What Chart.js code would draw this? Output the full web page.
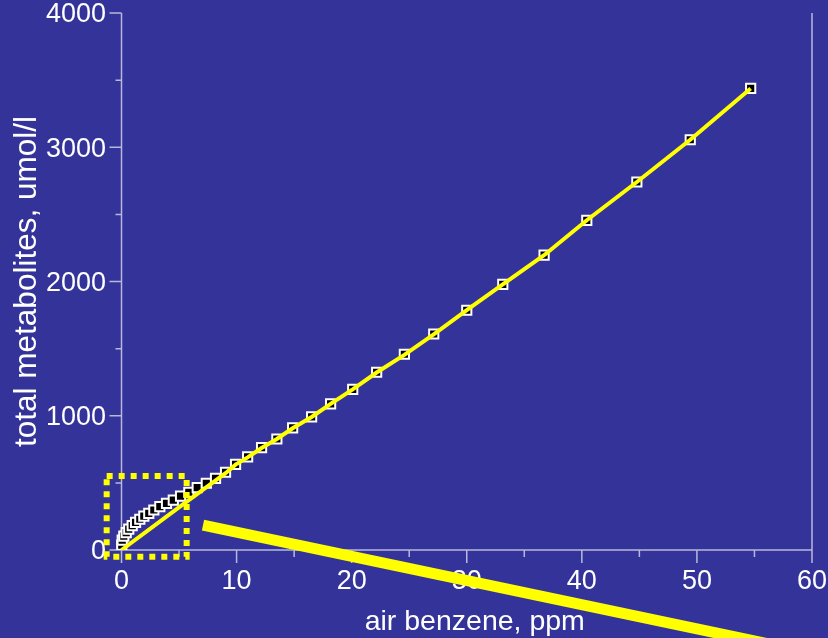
<!DOCTYPE html>
<html>
<head>
<meta charset="utf-8">
<script src="https://cdn.jsdelivr.net/npm/chart.js@4/dist/chart.umd.min.js"></script>
<style>
  html, body { margin: 0; padding: 0; background: #333399; }
  #wrap { width: 828px; height: 638px; }
</style>
</head>
<body>
<div id="wrap"><canvas id="chart" width="828" height="638"></canvas></div>
<script>
// measured points: air benzene (ppm) vs total metabolites (umol/l)
const pointX = [0.02, 0.06, 0.20, 0.41, 0.63, 0.93, 1.22, 1.59, 1.94, 2.37, 2.81, 3.33, 3.91, 4.50, 5.13, 5.85,
  6.58, 7.37, 8.17, 9.04, 9.91, 10.96, 12.17, 13.50, 14.87, 16.52, 18.17, 20.09, 22.17, 24.58, 27.13, 30.0,
  33.13, 36.72, 40.43, 44.78, 49.42, 54.67];
const pointY = [37, 74, 104, 129, 156, 181, 206, 229, 253, 273, 298, 323, 348, 372, 402, 430,
  464, 497, 534, 579, 638, 693, 762, 827, 909, 991, 1088, 1197, 1324, 1458, 1609, 1786,
  1979, 2196, 2456, 2741, 3056, 3439];

// yellow model curve
const lineX = [0, 4.55, 9.04, 9.91, 10.96, 12.17, 13.50, 14.87, 16.52, 18.17, 20.09, 22.17, 24.58, 27.13, 30.0,
  33.13, 36.72, 40.43, 44.78, 49.42, 54.67];
const lineY = [0, 290, 572, 636, 690, 760, 827, 907, 991, 1088, 1197, 1322, 1453, 1606, 1786,
  1979, 2196, 2456, 2741, 3056, 3437];

const xTitle = 'air benzene, ppm';
const yTitle = 'total metabolites, umol/l';

// highlight box and pointer (data units)
const boxX = [-1.29, 5.66];
const boxY = [-50, 551];
const pointerX = [7.08, 63.3];
const pointerY = [186, -827];

const bg = '#333399';
const axisColor = '#b8b8dc';
const yellow = '#ffff00';
const fontFamily = '"Liberation Sans", Arial, sans-serif';

function toXY(xs, ys) {
  return xs.map((x, i) => ({ x: x, y: ys[i] }));
}

const axesPlugin = {
  id: 'axes',
  beforeDraw(chart) {
    const ctx = chart.ctx;
    ctx.save();
    ctx.fillStyle = bg;
    ctx.fillRect(0, 0, chart.width, chart.height);
    ctx.restore();
  },
  beforeDatasetsDraw(chart) {
    const { ctx, chartArea: a, scales: { x, y } } = chart;
    const x0 = x.getPixelForValue(0);
    ctx.save();
    ctx.strokeStyle = axisColor;
    ctx.lineWidth = 1.5;
    ctx.beginPath();
    ctx.moveTo(a.left, a.bottom);
    ctx.lineTo(a.right, a.bottom);
    ctx.moveTo(x0, a.top);
    ctx.lineTo(x0, a.bottom);
    ctx.moveTo(a.right, a.top);
    ctx.lineTo(a.right, a.bottom);
    for (let v = 0; v <= 60; v += 5) {
      const px = x.getPixelForValue(v);
      ctx.moveTo(px, a.bottom);
      ctx.lineTo(px, a.bottom + (v % 10 ? 7 : 13));
    }
    for (let v = 0; v <= 4000; v += 500) {
      const py = y.getPixelForValue(v);
      ctx.moveTo(x0, py);
      ctx.lineTo(x0 - (v % 1000 ? 6 : 12), py);
    }
    ctx.stroke();
    ctx.restore();
  },
  afterDraw(chart) {
    const { ctx, chartArea: a, scales: { x, y } } = chart;
    ctx.save();
    // x axis title, centred a little right of the scale middle as in the original
    ctx.fillStyle = '#ffffff';
    ctx.font = '28.5px ' + fontFamily;
    ctx.textAlign = 'center';
    ctx.textBaseline = 'alphabetic';
    ctx.fillText(xTitle, (x.getPixelForValue(0) + a.right) / 2 + 8, 630);
    // dotted box round the low-exposure points
    const l = x.getPixelForValue(boxX[0]), r = x.getPixelForValue(boxX[1]);
    const t = y.getPixelForValue(boxY[1]), b = y.getPixelForValue(boxY[0]);
    ctx.strokeStyle = yellow;
    ctx.lineWidth = 6;
    ctx.setLineDash([6, 6]);
    ctx.strokeRect(l, t, r - l, b - t);
    // thick pointer line
    ctx.setLineDash([]);
    ctx.lineWidth = 11;
    ctx.lineCap = 'butt';
    ctx.beginPath();
    ctx.moveTo(x.getPixelForValue(pointerX[0]), y.getPixelForValue(pointerY[0]));
    ctx.lineTo(x.getPixelForValue(pointerX[1]), y.getPixelForValue(pointerY[1]));
    ctx.stroke();
    ctx.restore();
  }
};

new Chart(document.getElementById('chart'), {
  type: 'scatter',
  data: {
    datasets: [
      {
        label: 'model',
        data: toXY(lineX, lineY),
        showLine: true,
        borderColor: yellow,
        borderWidth: 4,
        pointRadius: 0,
        tension: 0
      },
      {
        label: 'measured',
        data: toXY(pointX, pointY),
        pointStyle: 'rect',
        pointRadius: 6.5,
        backgroundColor: '#000000',
        borderColor: '#ffffff',
        borderWidth: 2
      }
    ]
  },
  options: {
    responsive: false,
    animation: false,
    devicePixelRatio: 1,
    layout: { padding: { top: 13, right: 16, left: 0, bottom: 0 } },
    plugins: { legend: { display: false }, tooltip: { enabled: false } },
    scales: {
      x: {
        type: 'linear',
        min: -1,
        max: 60,
        grid: { display: false, drawTicks: false },
        border: { display: false },
        ticks: {
          stepSize: 10,
          includeBounds: false,
          autoSkip: false,
          maxRotation: 0,
          padding: 15,
          color: '#ffffff',
          font: { family: fontFamily, size: 27 },
          callback: v => String(v)
        },
        title: { display: false },
        afterFit(s) { s.height = 88; s.paddingLeft = 0; s.paddingRight = 0; }
      },
      y: {
        type: 'linear',
        min: 0,
        max: 4000,
        grid: { display: false, drawTicks: false },
        border: { display: false },
        ticks: {
          stepSize: 1000,
          padding: 4,
          labelOffset: 2,
          color: '#ffffff',
          font: { family: fontFamily, size: 27 },
          callback: v => String(v)
        },
        title: {
          display: true,
          text: yTitle,
          color: '#ffffff',
          font: { family: fontFamily, size: 31.5 },
          padding: { top: 8, bottom: 0 }
        },
        afterFit(s) { s.width = 110; s.paddingTop = 0; s.paddingBottom = 0; }
      }
    }
  },
  plugins: [axesPlugin]
});
</script>
</body>
</html>
